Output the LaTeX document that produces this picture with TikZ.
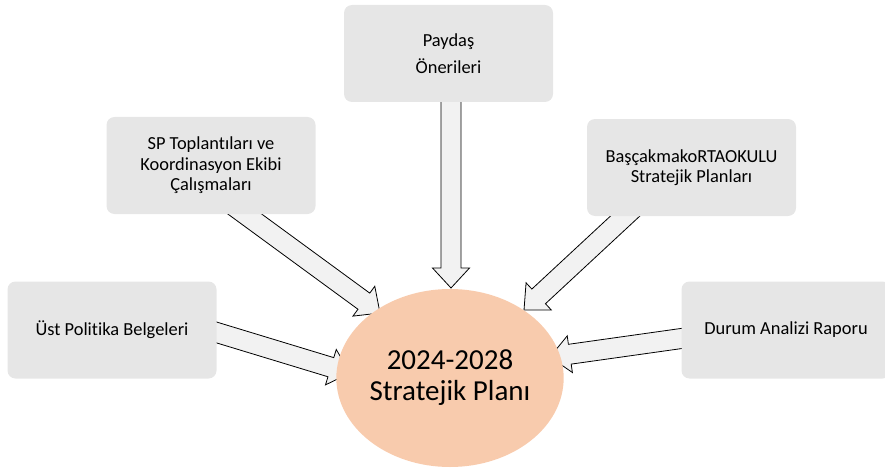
\documentclass[tikz,border=0pt]{standalone}
\usepackage{fontspec}
\setmainfont{Carlito}[Ligatures=NoCommon]
\usetikzlibrary{calc,shapes.geometric}
\pgfdeclarelayer{bg}
\pgfsetlayers{bg,main}
\definecolor{boxgray}{HTML}{E6E6E6}
\definecolor{arrowgray}{HTML}{F2F2F2}
\definecolor{peach}{HTML}{F8CBAD}
\tikzset{
  srcbox/.style={fill=boxgray, rounded corners=8pt, minimum width=209pt, minimum height=97pt,
    inner sep=0pt, align=center, font=\fontsize{18.4}{20.5}\selectfont},
  planbox/.style={ellipse, fill=peach, minimum width=194pt, minimum height=178pt, inner sep=0pt,
    align=center, font=\fontsize{29}{31}\selectfont},
  blockarrowstyle/.style={fill=arrowgray, draw=black, line width=0.8pt, line join=miter},
}
% block arrow from tail #1 to tip #2
\newcommand{\blockarrow}[2]{%
  \coordinate (ba-t) at ($(#1)!-20pt!(#2)$);
  \coordinate (ba-h) at ($(#2)!20pt!(#1)$);
  \draw[blockarrowstyle] ($(ba-t)!10pt!90:(#2)$) -- ($(ba-h)!10pt!90:(#2)$) -- ($(ba-h)!18.5pt!90:(#2)$)
    -- (#2) -- ($(ba-h)!18.5pt!-90:(#2)$) -- ($(ba-h)!10pt!-90:(#2)$) -- ($(ba-t)!10pt!-90:(#2)$) -- cycle;
}
\begin{document}
\begin{tikzpicture}[x=1pt, y=-1pt]
\useasboundingbox (0,0) rectangle (885,468);
\clip (0,0) rectangle (885,468);
\node[srcbox] (paydas) at (448.5,53.5) {Paydaş\\[6.5pt]Önerileri};
\node[srcbox] (sp) at (211,165.5) {SP Toplantıları ve\\Koordinasyon Ekibi\\Çalışmaları};
\node[srcbox] (ust) at (112,330) {Üst Politika Belgeleri};
\node[srcbox] (bas) at (691.5,167.5) {BaşçakmakoRTAOKULU\\Stratejik Planları};
\node[srcbox] (durum) at (786,330) {Durum Analizi Raporu};
\node[planbox] (plan) at (450,378) {2024-2028\\Stratejik Planı};
\coordinate (tipA) at (451,288);
\coordinate (tipB) at (380,313);
\coordinate (tipC) at (350,373);
\coordinate (tipD) at (524,310);
\coordinate (tipE) at (550,357);
\begin{pgfonlayer}{bg}
\blockarrow{[xshift=2.5pt]paydas.south}{tipA}
\blockarrow{[xshift=34pt]sp.south}{tipB}
\blockarrow{[yshift=-2.5pt]ust.east}{tipC}
\blockarrow{[xshift=-66.5pt]bas.south}{tipD}
\blockarrow{[yshift=-8.5pt]durum.west}{tipE}
\end{pgfonlayer}
\end{tikzpicture}
\end{document}
